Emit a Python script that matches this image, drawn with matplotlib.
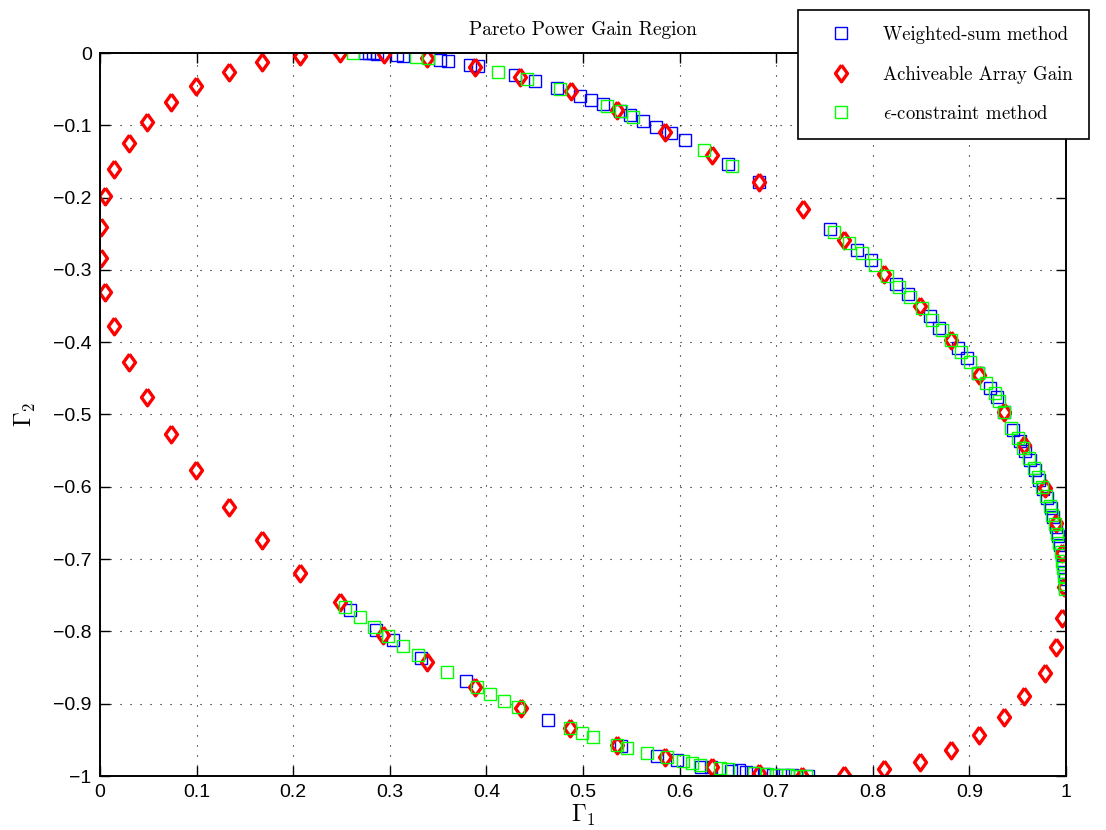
import matplotlib
matplotlib.use("Agg")
import matplotlib.pyplot as plt

plt.rcParams['mathtext.fontset'] = 'cm'
plt.rcParams['font.family'] = ['Liberation Sans', 'DejaVu Sans']

# achievable array gain (red diamonds)
gain_x = [0.001, 0.005, 0.015, 0.030, 0.049, 0.073, 0.099, 0.134, 0.168, 0.207,
          0.248, 0.294, 0.339, 0.388, 0.435, 0.488, 0.535, 0.585, 0.634, 0.682,
          0.728, 0.770, 0.812, 0.849, 0.881, 0.910, 0.936, 0.957, 0.978, 0.990,
          0.9955, 0.998,
          0.9955, 0.990, 0.978, 0.957, 0.936, 0.910, 0.881, 0.849, 0.812, 0.770,
          0.727, 0.682, 0.634, 0.585, 0.535, 0.487, 0.436, 0.388, 0.338, 0.293,
          0.248, 0.207, 0.168, 0.134, 0.099, 0.073, 0.049, 0.030, 0.015, 0.005,
          0.001]
gain_y = [-0.241, -0.198, -0.160, -0.125, -0.095, -0.068, -0.046, -0.026, -0.013, -0.004,
          0.000, -0.001, -0.007, -0.019, -0.033, -0.053, -0.079, -0.109, -0.141, -0.178,
          -0.216, -0.258, -0.305, -0.350, -0.397, -0.445, -0.496, -0.542, -0.602, -0.650,
          -0.692, -0.738,
          -0.781, -0.822, -0.858, -0.890, -0.918, -0.943, -0.964, -0.980, -0.991, -0.998,
          -1.000, -0.996, -0.988, -0.974, -0.957, -0.934, -0.906, -0.877, -0.842, -0.805,
          -0.760, -0.719, -0.673, -0.628, -0.577, -0.527, -0.476, -0.428, -0.378, -0.331,
          -0.284]

# weighted-sum method (blue squares)
ws_x = [0.274, 0.278, 0.283, 0.287, 0.307, 0.314, 0.352, 0.360, 0.383, 0.391,
        0.430, 0.450, 0.473, 0.497, 0.508, 0.521, 0.538, 0.549, 0.562, 0.576,
        0.591, 0.606, 0.650, 0.682,
        0.756, 0.784, 0.798, 0.824, 0.836, 0.859, 0.869, 0.888, 0.898, 0.909,
        0.921, 0.929, 0.936, 0.945, 0.952, 0.958, 0.963, 0.968, 0.972, 0.976,
        0.980, 0.984, 0.987, 0.990, 0.992, 0.994, 0.996, 0.997, 0.998, 0.999, 0.999,
        0.2585, 0.2855, 0.3035, 0.332, 0.379, 0.464, 0.539, 0.577, 0.597, 0.622,
        0.633, 0.653, 0.661, 0.669, 0.676, 0.687, 0.697, 0.707, 0.716, 0.725, 0.733]
ws_y = [0.000, 0.000, 0.000, -0.001, -0.003, -0.004, -0.009, -0.011, -0.017, -0.018,
        -0.031, -0.039, -0.049, -0.059, -0.065, -0.071, -0.080, -0.086, -0.094, -0.102,
        -0.111, -0.121, -0.153, -0.178,
        -0.243, -0.272, -0.286, -0.320, -0.334, -0.364, -0.380, -0.408, -0.422, -0.443,
        -0.463, -0.476, -0.496, -0.522, -0.536, -0.550, -0.563, -0.577, -0.590, -0.603,
        -0.616, -0.629, -0.642, -0.655, -0.668, -0.681, -0.694, -0.707, -0.718, -0.728, -0.737,
        -0.770, -0.798, -0.8115, -0.837, -0.869, -0.9225, -0.959, -0.972, -0.978, -0.987,
        -0.987, -0.9926, -0.992, -0.994, -0.996, -0.997, -0.998, -0.999, -0.999, -1.000, -1.000]

# epsilon-constraint method (green squares)
ec_x = [0.262, 0.327, 0.340, 0.412, 0.442, 0.476, 0.5245, 0.539, 0.552, 0.625, 0.654,
        0.760, 0.775, 0.789, 0.802, 0.815, 0.827, 0.839, 0.851, 0.861, 0.872,
        0.881, 0.891, 0.901, 0.909, 0.917, 0.926, 0.931, 0.936,
        0.943, 0.950, 0.956, 0.962, 0.967, 0.971, 0.975, 0.979, 0.983, 0.986,
        0.989, 0.991, 0.993, 0.995, 0.996, 0.997, 0.998, 0.999, 0.999,
        0.2533, 0.2689, 0.2834, 0.2983, 0.3138, 0.3294, 0.3595, 0.390, 0.4038, 0.4187,
        0.4332, 0.4865, 0.4986, 0.5107, 0.535, 0.5452, 0.566, 0.5866, 0.604, 0.6125,
        0.621, 0.6418, 0.650, 0.677, 0.690, 0.700, 0.712, 0.722, 0.731]
ec_y = [0.000, -0.005, -0.007, -0.026, -0.036, -0.050, -0.073, -0.080, -0.088, -0.134, -0.156,
        -0.247, -0.2625, -0.276, -0.293, -0.308, -0.324, -0.338, -0.353, -0.369, -0.383,
        -0.397, -0.413, -0.427, -0.443, -0.456, -0.470, -0.482, -0.496,
        -0.518, -0.532, -0.546, -0.560, -0.574, -0.587, -0.600, -0.613, -0.626, -0.639,
        -0.652, -0.665, -0.678, -0.690, -0.702, -0.713, -0.724, -0.734, -0.741,
        -0.7667, -0.780, -0.794, -0.807, -0.820, -0.832, -0.856, -0.877, -0.887, -0.896,
        -0.904, -0.934, -0.941, -0.9465, -0.957, -0.961, -0.9686, -0.974, -0.979, -0.9825,
        -0.985, -0.9894, -0.9908, -0.996, -0.997, -0.998, -0.999, -1.000, -1.000]

xticks = [0, 0.1, 0.2, 0.3, 0.4, 0.5, 0.6, 0.7, 0.8, 0.9, 1]
xlabels = ['0', '0.1', '0.2', '0.3', '0.4', '0.5', '0.6', '0.7', '0.8', '0.9', '1']
yticks = [0, -0.1, -0.2, -0.3, -0.4, -0.5, -0.6, -0.7, -0.8, -0.9, -1]
ylabels = ['0', '\u22120.1', '\u22120.2', '\u22120.3', '\u22120.4', '\u22120.5',
           '\u22120.6', '\u22120.7', '\u22120.8', '\u22120.9', '\u22121']

diamond = [(0, 1), (0.72, 0), (0, -1), (-0.72, 0), (0, 1)]

fig = plt.figure(figsize=(11.06, 8.30), dpi=100)
ax = fig.add_axes([100 / 1106, 1 - 776 / 830, 966 / 1106, 723 / 830])

ax.plot(ws_x, ws_y, 's', mfc='none', mec=(0, 0, 1), ms=8, mew=1.0,
        label='Weighted-sum method')
ax.plot(gain_x, gain_y, marker=diamond, ls='none', mfc='none', mec=(1, 0, 0),
        ms=12, mew=2.4, label='Achiveable Array Gain')
ax.plot(ec_x, ec_y, 's', mfc='none', mec=(0, 1, 0), ms=8, mew=1.0,
        label=r'$\epsilon$-constraint method')

ax.set_xlim(0, 1)
ax.set_ylim(-1, 0)
ax.set_xticks(xticks)
ax.set_xticklabels(xlabels)
ax.set_yticks(yticks)
ax.set_yticklabels(ylabels)
ax.tick_params(direction='in', length=7, width=1, top=True, right=True,
               labelsize=14, pad=6, colors='black')
for s in ax.spines.values():
    s.set_linewidth(1.4)
ax.grid(True, color='black', linestyle=(0, (1, 8)), linewidth=0.8)
ax.set_axisbelow(True)

ax.set_title('Pareto Power Gain Region', fontfamily='cmr10', fontsize=14, pad=13)
ax.set_xlabel(r'$\Gamma_1$', fontsize=17, labelpad=1)
ax.set_ylabel(r'$\Gamma_2$', fontsize=17, labelpad=11)

leg = ax.legend(loc='upper left', bbox_to_anchor=(798 / 1106, 1 - 10 / 830),
                bbox_transform=fig.transFigure, prop={'family': 'cmr10', 'size': 13.5},
                fancybox=False, framealpha=1, edgecolor='black', borderpad=0.85,
                labelspacing=1.15, handlelength=2.9, handletextpad=0.8,
                borderaxespad=0)
leg.get_frame().set_linewidth(1.2)

fig.savefig('out.png', dpi=100)
